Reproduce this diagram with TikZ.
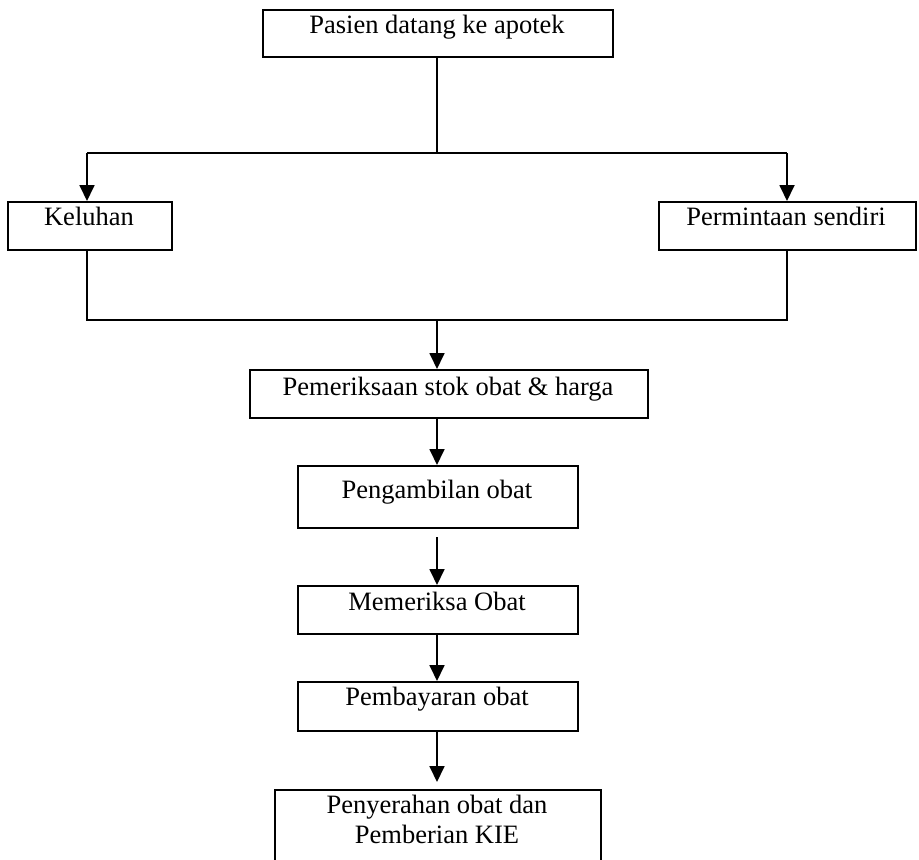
\documentclass[tikz,border=0pt]{standalone}
\usepackage{fontspec}
\setmainfont{Liberation Serif}
\usetikzlibrary{arrows.meta}
\begin{document}
\begin{tikzpicture}[x=1pt,y=-1pt,
  every node/.style={font=\fontsize{26.5}{31}\selectfont},
  box/.style={draw,line width=1.8pt,inner sep=0pt,anchor=north west},
  lbl/.style={anchor=base,inner sep=0pt},
  conn/.style={line width=1.8pt},
  arr/.style={line width=1.8pt,-{Triangle[length=16pt,width=15pt]}}]
\useasboundingbox (0,0) rectangle (919,860);
% boxes
\node[box,minimum width=350pt,minimum height=47pt] (b1) at (262,9) {};
\node[lbl] (t1) at (437,33) {Pasien datang ke apotek};
\node[box,minimum width=164pt,minimum height=48pt] (b2) at (7,201) {};
\node[lbl] (t2) at (89,225) {Keluhan};
\node[box,minimum width=257pt,minimum height=48pt] (b3) at (658,201) {};
\node[lbl] (t3) at (786,225) {Permintaan sendiri};
\node[box,minimum width=398pt,minimum height=48pt] (b4) at (249,369) {};
\node[lbl] (t4) at (448,395) {Pemeriksaan stok obat \& harga};
\node[box,minimum width=280pt,minimum height=62pt] (b5) at (297,465) {};
\node[lbl] (t5) at (437,498) {Pengambilan obat};
\node[box,minimum width=280pt,minimum height=48pt] (b6) at (297,585) {};
\node[lbl] (t6) at (437,610) {Memeriksa Obat};
\node[box,minimum width=280pt,minimum height=49pt] (b7) at (297,681) {};
\node[lbl] (t7) at (437,705) {Pembayaran obat};
\node[box,minimum width=326pt,minimum height=90pt] (b8) at (274,789) {};
\node[lbl] (t8a) at (437,813) {Penyerahan obat dan};
\node[lbl] (t8b) at (437,843) {Pemberian KIE};
% coordinates
\coordinate (j1) at (437,153);
\coordinate (l1) at (87,153);
\coordinate (r1) at (787,153);
\coordinate (l2) at (87,320);
\coordinate (r2) at (787,320);
\coordinate (j2) at (437,320);
\coordinate (s5) at (437,537);
% connectors
\draw[conn] (b1.south -| j1) -- (j1);
\draw[conn] (l1) -- (r1);
\draw[arr] (l1) -- (l1 |- b2.north);
\draw[arr] (r1) -- (r1 |- b3.north);
\draw[conn] (l2 |- b2.south) -- (l2) -- (r2) -- (r2 |- b3.south);
\draw[arr] (j2) -- (j2 |- b4.north);
\draw[arr] (j2 |- b4.south) -- (j2 |- b5.north);
\draw[arr] (s5) -- (s5 |- b6.north);
\draw[arr] (s5 |- b6.south) -- (s5 |- b7.north);
\draw[arr] (s5 |- b7.south) -- ([yshift=7pt]s5 |- b8.north);
\end{tikzpicture}
\end{document}
